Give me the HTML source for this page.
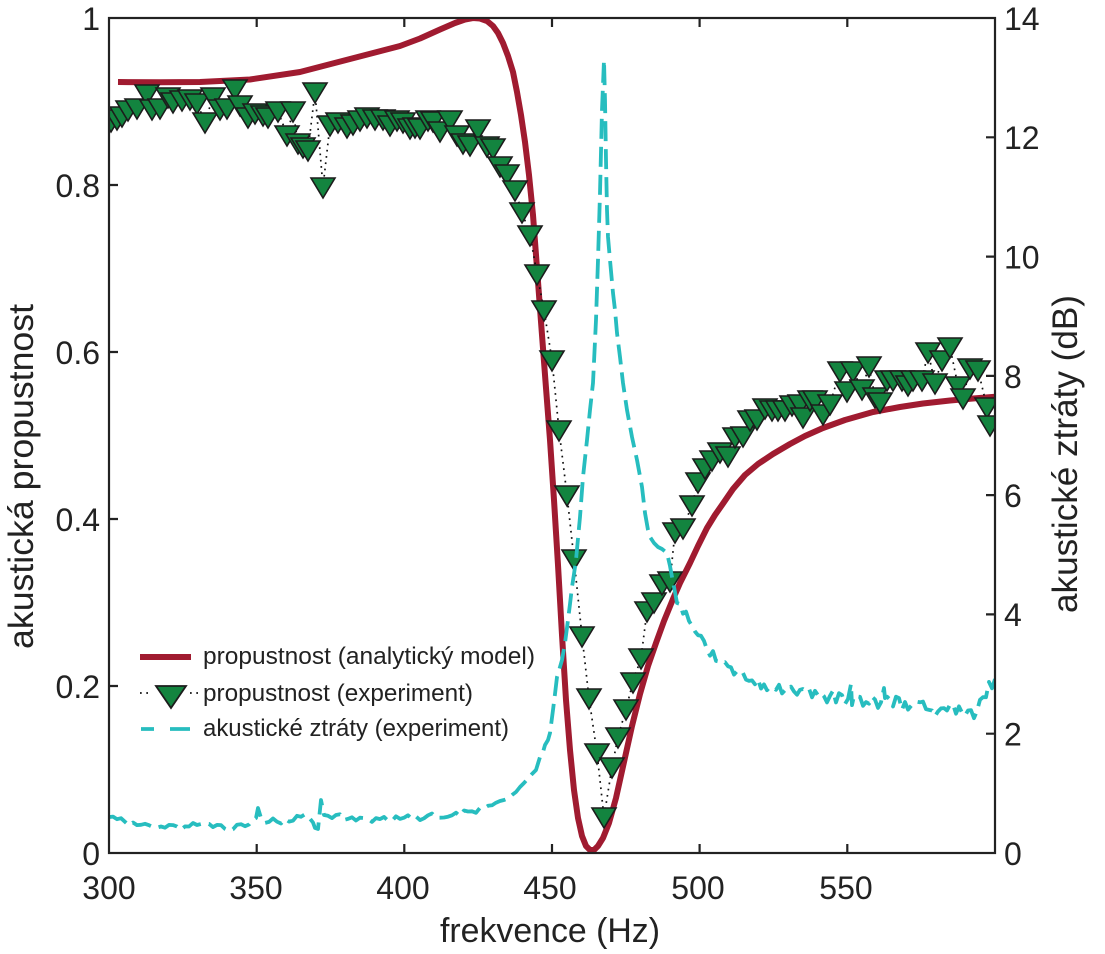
<!DOCTYPE html>
<html>
<head>
<meta charset="utf-8">
<style>
html,body{margin:0;padding:0;background:#fff;}
svg{display:block;}
text{font-family:"Liberation Sans", Arial, sans-serif; fill:#222;}
</style>
</head>
<body>
<svg width="1105" height="954" viewBox="0 0 1105 954" xmlns="http://www.w3.org/2000/svg">
<defs>
<clipPath id="pc"><rect x="109" y="18" width="886" height="835"/></clipPath>
<path id="t" d="M-12,-9 L12,-9 L0,11 Z"/>
</defs>
<rect width="1105" height="954" fill="#fff"/>
<g clip-path="url(#pc)">
<path fill="none" stroke="#a01b30" stroke-width="6" stroke-linejoin="round" d="M118,82 L160,82.3 L200,82 L250,79.5 L300,72 L350,59 L400,46 L420,38.5 L440,29.5 L455,23 L465,19.5 L473,18 L480,18.5 L487,21 L493,26 L498,33 L503,43 L508,56 L513,72 L517,92 L521,115 L525,142 L529,175 L533,215 L536,255 L539,295 L542,335 L546,388 L550,440 L554,500 L558,565 L562,635 L566,700 L570,750 L574,790 L578,818 L582,836 L586,846 L590,850 L594,850 L598,846 L603,838 L609,823 L616,798 L624,762 L632,726 L640,694 L648,666 L656,643 L664,621 L673,599 L680,583 L690,563 L698,546 L707,528 L715,515 L722,505 L733,489 L745,475 L758,464 L773,454 L790,444 L805,436 L823,428 L845,420 L873,412 L900,407 L923,403.5 L950,400.5 L973,398.5 L998,396.5"/>
<path fill="none" stroke="#111" stroke-width="1.7" stroke-dasharray="1.7 4.6" d="M111,121 L117,119 L122,116 L128,110 L137,108 L147,94 L152,109 L160,108 L168,97 L173,102 L182,100 L190,99 L197,103 L205,122 L213,97 L220,109 L227,108 L235,89 L240,105 L248,117 L255,113 L263,115 L268,117 L278,111 L287,135 L293,111 L298,143 L303,147 L308,150 L315,92 L323,187 L330,125 L338,122 L347,127 L353,124 L360,120 L367,117 L375,119 L383,119 L390,125 L397,120 L403,122 L410,128 L415,127 L420,128 L428,120 L433,121 L440,131 L450,120 L457,135 L463,143 L470,145 L478,129 L487,146 L493,148 L500,166 L507,174 L515,190 L522,212 L530,235 L537,274 L544,310 L552,360 L559,430 L567,495 L574,559 L582,636 L589,698 L597,753 L604,817 L612,767 L618,737 L626,709 L633,682 L641,658 L647,611 L654,602 L662,584 L670,581 L675,532 L683,528 L692,505 L698,482 L705,468 L712,460 L720,452 L728,456 L735,437 L743,436 L750,420 L757,419 L765,408 L772,410 L778,410 L785,410 L792,405 L800,404 L803,417 L810,400 L815,400 L823,414 L830,404 L840,371 L847,391 L853,371 L862,389 L869,366 L875,397 L880,402 L887,380 L893,380 L902,380 L908,385 L913,380 L922,380 L928,352 L935,383 L942,360 L950,347 L958,386 L963,398 L970,368 L978,370 L987,407 L990,425"/>
<g fill="#13843f" stroke="#1c1c1c" stroke-width="1.6">
<use href="#t" x="111" y="121"/><use href="#t" x="117" y="119"/><use href="#t" x="122" y="116"/><use href="#t" x="128" y="110"/><use href="#t" x="137" y="108"/><use href="#t" x="147" y="94"/><use href="#t" x="152" y="109"/><use href="#t" x="160" y="108"/><use href="#t" x="168" y="97"/><use href="#t" x="173" y="102"/>
<use href="#t" x="182" y="100"/><use href="#t" x="190" y="99"/><use href="#t" x="197" y="103"/><use href="#t" x="205" y="122"/><use href="#t" x="213" y="97"/><use href="#t" x="220" y="109"/><use href="#t" x="227" y="108"/><use href="#t" x="235" y="89"/><use href="#t" x="240" y="105"/><use href="#t" x="248" y="117"/>
<use href="#t" x="255" y="113"/><use href="#t" x="263" y="115"/><use href="#t" x="268" y="117"/><use href="#t" x="278" y="111"/><use href="#t" x="287" y="135"/><use href="#t" x="293" y="111"/><use href="#t" x="298" y="143"/><use href="#t" x="303" y="147"/><use href="#t" x="308" y="150"/><use href="#t" x="315" y="92"/>
<use href="#t" x="323" y="187"/><use href="#t" x="330" y="125"/><use href="#t" x="338" y="122"/><use href="#t" x="347" y="127"/><use href="#t" x="353" y="124"/><use href="#t" x="360" y="120"/><use href="#t" x="367" y="117"/><use href="#t" x="375" y="119"/><use href="#t" x="383" y="119"/><use href="#t" x="390" y="125"/>
<use href="#t" x="397" y="120"/><use href="#t" x="403" y="122"/><use href="#t" x="410" y="128"/><use href="#t" x="415" y="127"/><use href="#t" x="420" y="128"/><use href="#t" x="428" y="120"/><use href="#t" x="433" y="121"/><use href="#t" x="440" y="131"/><use href="#t" x="450" y="120"/><use href="#t" x="457" y="135"/>
<use href="#t" x="463" y="143"/><use href="#t" x="470" y="145"/><use href="#t" x="478" y="129"/><use href="#t" x="487" y="146"/><use href="#t" x="493" y="148"/><use href="#t" x="500" y="166"/><use href="#t" x="507" y="174"/><use href="#t" x="515" y="190"/><use href="#t" x="522" y="212"/><use href="#t" x="530" y="235"/>
<use href="#t" x="537" y="274"/><use href="#t" x="544" y="310"/><use href="#t" x="552" y="360"/><use href="#t" x="559" y="430"/><use href="#t" x="567" y="495"/><use href="#t" x="574" y="559"/><use href="#t" x="582" y="636"/><use href="#t" x="589" y="698"/><use href="#t" x="597" y="753"/><use href="#t" x="604" y="817"/>
<use href="#t" x="612" y="767"/><use href="#t" x="618" y="737"/><use href="#t" x="626" y="709"/><use href="#t" x="633" y="682"/><use href="#t" x="641" y="658"/><use href="#t" x="647" y="611"/><use href="#t" x="654" y="602"/><use href="#t" x="662" y="584"/><use href="#t" x="670" y="581"/><use href="#t" x="675" y="532"/>
<use href="#t" x="683" y="528"/><use href="#t" x="692" y="505"/><use href="#t" x="698" y="482"/><use href="#t" x="705" y="468"/><use href="#t" x="712" y="460"/><use href="#t" x="720" y="452"/><use href="#t" x="728" y="456"/><use href="#t" x="735" y="437"/><use href="#t" x="743" y="436"/><use href="#t" x="750" y="420"/>
<use href="#t" x="757" y="419"/><use href="#t" x="765" y="408"/><use href="#t" x="772" y="410"/><use href="#t" x="778" y="410"/><use href="#t" x="785" y="410"/><use href="#t" x="792" y="405"/><use href="#t" x="800" y="404"/><use href="#t" x="803" y="417"/><use href="#t" x="810" y="400"/><use href="#t" x="815" y="400"/>
<use href="#t" x="823" y="414"/><use href="#t" x="830" y="404"/><use href="#t" x="840" y="371"/><use href="#t" x="847" y="391"/><use href="#t" x="853" y="371"/><use href="#t" x="862" y="389"/><use href="#t" x="869" y="366"/><use href="#t" x="875" y="397"/><use href="#t" x="880" y="402"/><use href="#t" x="887" y="380"/>
<use href="#t" x="893" y="380"/><use href="#t" x="902" y="380"/><use href="#t" x="908" y="385"/><use href="#t" x="913" y="380"/><use href="#t" x="922" y="380"/><use href="#t" x="928" y="352"/><use href="#t" x="935" y="383"/><use href="#t" x="942" y="360"/><use href="#t" x="950" y="347"/><use href="#t" x="958" y="386"/>
<use href="#t" x="963" y="398"/><use href="#t" x="970" y="368"/><use href="#t" x="978" y="370"/><use href="#t" x="987" y="407"/><use href="#t" x="990" y="425"/>
</g>
<path fill="none" stroke="#27bdbf" stroke-width="3.8" stroke-dasharray="20 8" stroke-linejoin="round" d="M109,817.1 L113,816.6 L117,819.2 L121,818.2 L125,821.8 L129,825.5 L133,822.5 L137,825.1 L141,824.8 L145,823.8 L149,825.2 L153,827.1 L157,827.7 L161,826.5 L165,827.7 L169,824.9 L173,825.1 L177,826.5 L181,829.8 L185,826.4 L189,826.5 L193,823 L197,825 L201,824 L205,823.7 L209,823.9 L213,827.1 L217,824.9 L221,825.1 L225,828.9 L229,830.9 L233,829.3 L237,824.7 L241,824.2 L245,826.2 L249,824.5 L253,819.7 L256,818 L258,808 L261,818 L265,822.9 L269,821.9 L273,818.5 L277,821.7 L281,823.5 L285,818.9 L289,821.6 L293,820.7 L297,815.8 L301,816.8 L305,814.3 L309,817.5 L313,822.5 L315,828 L318,829 L321,800 L324,815 L328,815.8 L332,818.1 L336,815 L340,814.3 L344,819.9 L348,818.9 L352,817.3 L356,820.5 L360,817.7 L364,818.1 L368,819.1 L372,821.9 L376,818.1 L380,819.1 L384,816.9 L388,820.7 L392,820.9 L396,816.3 L400,818.9 L404,817.7 L408,815.3 L412,818.9 L416,816.5 L420,820.1 L424,818.3 L428,815.3 L432,813.5 L436,817.7 L440,817.7 L444,817.5 L448,816.7 L452,815.3 L456,812.7 L460,816.1 L464,810.5 L468,811.5 L472,811.3 L476,812.8 L480,807.8 L484,808.3 L488,805.8 L492,805.3 L496,802.7 L500,801 L504,800 L508,798.5 L512,795 L516,792 L520,787 L524,783 L528,778.5 L532,774 L536,770 L540,757 L543,752 L545,745 L548,740 L550,733 L553,710 L555,694 L557,677 L560,667 L562,660 L565,643 L568,620 L570,604 L572,587 L574,574 L576,560 L580,517 L583,477 L587,440 L590,410 L593,383 L596,320 L598,260 L600,193 L602,110 L604,60 L605,100 L606,160 L607,210 L608,237 L610,260 L613,293 L615,310 L617,333 L620,357 L623,383 L627,410 L632,437 L637,460 L642,487 L645,513 L648,530 L650,537 L654,543 L658,547 L662,549 L667,553 L670,566 L672,577 L675,592 L677,603 L680,604 L683,613.7 L686,611.6 L689,621 L692,625.8 L695,631.5 L698,635.2 L701,635.8 L704,640.9 L707,649.6 L710,655.7 L713,651.1 L716,660.9 L719,661.6 L722,663.3 L725,662.2 L728,666.3 L731,667.3 L734,674.6 L737,671.1 L740,673.8 L743,673 L746,679.6 L749,680.9 L752,680.4 L755,684.3 L758,679.2 L761,688.6 L764,684.4 L767,690.2 L770,687 L773,687.4 L776,689.8 L779,684.8 L782,693.4 L785,690.2 L788,690.7 L791,686.6 L794,691.5 L797,694.7 L800,689.8 L803,689 L806,690.8 L809,688.5 L812,697.3 L815,690.8 L818,695.4 L821,693.1 L824,696.3 L827,702.4 L830,695.8 L833,690.7 L836,702.4 L839,693.2 L842,695.1 L845,704 L848,699 L851,684 L852,705.1 L854,695.8 L857,696.3 L860,696.9 L863,705.8 L866,702.1 L869,703.7 L872,696.7 L875,699.5 L878,707.9 L881,702.3 L884,688 L885,698.1 L887,696.7 L890,699.5 L893,706.5 L896,696.7 L899,698.1 L902,709.7 L905,702 L908,709.6 L911,706 L914,702.5 L917,701.7 L920,702.3 L923,701.6 L926,709.2 L929,709.9 L932,710.5 L935,716.1 L938,711.5 L941,708.4 L944,708.1 L947,710.5 L950,704.6 L953,704.3 L956,713.7 L959,706.4 L962,712.6 L965,715.8 L968,710.5 L971,710.2 L974,718.2 L977,710.9 L980,699.8 L983,697.1 L986,697.2 L989,681.9 L992,688.3 L995,679.1"/>
</g>
<rect x="109" y="18" width="886" height="835" fill="none" stroke="#222" stroke-width="2.2"/>
<path stroke="#222" stroke-width="2.2" fill="none" d="M256.7,853 V844 M256.7,18 V27 M404.3,853 V844 M404.3,18 V27 M552,853 V844 M552,18 V27 M699.6,853 V844 M699.6,18 V27 M847.3,853 V844 M847.3,18 V27 M109,686 H118 M109,519 H118 M109,352 H118 M109,185 H118 M995,733.7 H986 M995,614.4 H986 M995,495.1 H986 M995,375.9 H986 M995,256.6 H986 M995,137.3 H986"/>
<g font-size="32" text-anchor="middle">
<text x="109" y="899">300</text><text x="256" y="899">350</text><text x="403" y="899">400</text><text x="550" y="899">450</text><text x="698" y="899">500</text><text x="846" y="899">550</text>
</g>
<g font-size="32" text-anchor="end">
<text x="100" y="865">0</text><text x="100" y="698">0.2</text><text x="100" y="531">0.4</text><text x="100" y="364">0.6</text><text x="100" y="197">0.8</text><text x="100" y="30">1</text>
</g>
<g font-size="32" text-anchor="start">
<text x="1004" y="865">0</text><text x="1004" y="745.5">2</text><text x="1004" y="626">4</text><text x="1004" y="507">6</text><text x="1004" y="388">8</text><text x="1004" y="268.5">10</text><text x="1004" y="149">12</text><text x="1004" y="30">14</text>
</g>
<text x="550" y="942" font-size="34" text-anchor="middle" textLength="220" lengthAdjust="spacingAndGlyphs">frekvence (Hz)</text>
<text transform="translate(33,476.5) rotate(-90)" font-size="35" text-anchor="middle" textLength="345" lengthAdjust="spacingAndGlyphs">akustická propustnost</text>
<text transform="translate(1077,454) rotate(-90)" font-size="35" text-anchor="middle" textLength="318" lengthAdjust="spacingAndGlyphs">akustické ztráty (dB)</text>
<line x1="140" y1="657" x2="191" y2="657" stroke="#a01b30" stroke-width="6"/>
<text x="203" y="664" font-size="24" textLength="332" lengthAdjust="spacingAndGlyphs">propustnost (analytický model)</text>
<path d="M140,693 H152 M190,693 H202" stroke="#111" stroke-width="1.7" stroke-dasharray="1.7 4.6"/>
<path d="M156,686 L186,686 L171,708 Z" fill="#13843f" stroke="#1c1c1c" stroke-width="1.8"/>
<text x="203" y="701" font-size="24" textLength="270" lengthAdjust="spacingAndGlyphs">propustnost (experiment)</text>
<path d="M141,729 H154 M170,729 H190" stroke="#27bdbf" stroke-width="3.8"/>
<text x="203" y="736" font-size="24" textLength="306" lengthAdjust="spacingAndGlyphs">akustické ztráty (experiment)</text>
</svg>
</body>
</html>
